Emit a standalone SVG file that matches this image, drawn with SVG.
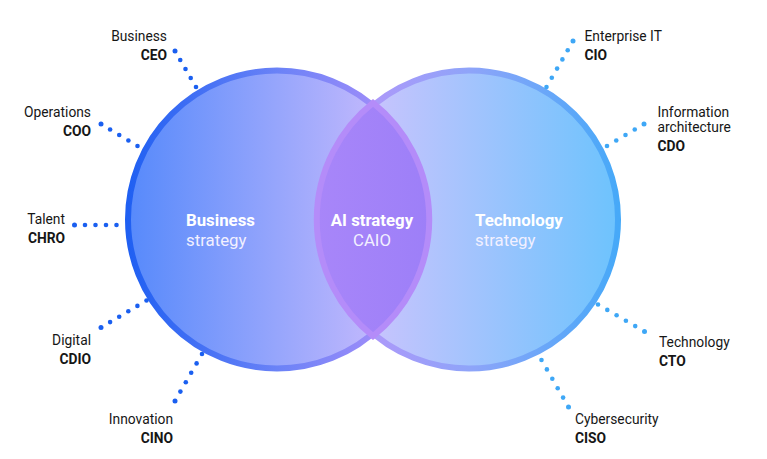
<svg xmlns="http://www.w3.org/2000/svg" width="767" height="459" viewBox="0 0 767 459">
<defs>
<linearGradient id="fillL" gradientUnits="userSpaceOnUse" x1="125" y1="0" x2="429" y2="0">
<stop offset="0" stop-color="#5589fb"/><stop offset="1" stop-color="#d8c2fd"/>
</linearGradient>
<linearGradient id="strokeL" gradientUnits="userSpaceOnUse" x1="125" y1="0" x2="429" y2="0">
<stop offset="0" stop-color="#1e5ff2"/><stop offset="0.5" stop-color="#6a82f7"/><stop offset="1" stop-color="#b892fa"/>
</linearGradient>
<linearGradient id="fillR" gradientUnits="userSpaceOnUse" x1="317" y1="0" x2="621" y2="0">
<stop offset="0" stop-color="#dcc4fd"/><stop offset="1" stop-color="#6cc3fd"/>
</linearGradient>
<linearGradient id="strokeR" gradientUnits="userSpaceOnUse" x1="317" y1="0" x2="621" y2="0">
<stop offset="0" stop-color="#bd92fa"/><stop offset="0.5" stop-color="#8fa4f9"/><stop offset="1" stop-color="#45a9f8"/>
</linearGradient>
<linearGradient id="fillM" gradientUnits="userSpaceOnUse" x1="317" y1="0" x2="429" y2="0">
<stop offset="0" stop-color="#a886f9"/><stop offset="1" stop-color="#9d7ff8"/>
</linearGradient>
</defs>
<style>
.lbl{font-family:Roboto,"Liberation Sans",sans-serif;font-size:13.8px;fill:#161616}
.b{font-weight:bold}
.r{text-anchor:end}
.ct{font-family:Roboto,"Liberation Sans",sans-serif;font-size:16.8px;fill:#ffffff}
.ct2{font-family:Roboto,"Liberation Sans",sans-serif;font-size:16.8px;fill:#f2f0ff}
.dl circle{fill:#1a5ff0}
.dr circle{fill:#3ea7f6}
</style>
<g id="circles">
<g id="business-strategy">
<circle cx="277" cy="219.5" r="149" fill="url(#fillL)" stroke="url(#strokeL)" stroke-width="6"/>
</g>
<g id="technology-strategy">
<circle cx="469" cy="219.5" r="149" fill="url(#fillR)" stroke="url(#strokeR)" stroke-width="6"/>
</g>
<g id="ai-strategy">
<path d="M373,102.9 A149,149 0 0 1 373,336.1 A149,149 0 0 1 373,102.9 Z" fill="url(#fillM)" stroke="#b48cf9" stroke-width="6"/>
</g>
<text class="ct b" x="186" y="226">Business</text>
<text class="ct2" x="186" y="246">strategy</text>
<text class="ct b" x="372" y="226" text-anchor="middle">AI strategy</text>
<text class="ct2" x="372" y="246" text-anchor="middle">CAIO</text>
<text class="ct b" x="475" y="226">Technology</text>
<text class="ct2" x="475" y="246">strategy</text>
</g>
<g id="connectors">
<g class="dl" id="c-ceo"><circle cx="175" cy="51" r="2.5"/><circle cx="180.25" cy="60" r="2.3"/><circle cx="185.5" cy="69" r="2.3"/><circle cx="190.75" cy="78" r="2.3"/><circle cx="196" cy="87" r="2.3"/></g>
<g class="dl" id="c-coo"><circle cx="101" cy="124" r="2.5"/><circle cx="110.1" cy="129.5" r="2.3"/><circle cx="119.25" cy="135" r="2.3"/><circle cx="128.4" cy="140.5" r="2.3"/><circle cx="137.5" cy="146" r="2.3"/></g>
<g class="dl" id="c-chro"><circle cx="74.5" cy="225" r="2.5"/><circle cx="85" cy="225" r="2.3"/><circle cx="95.5" cy="225" r="2.3"/><circle cx="106" cy="225" r="2.3"/><circle cx="116.5" cy="225" r="2.3"/></g>
<g class="dl" id="c-cdio"><circle cx="101" cy="327.5" r="2.5"/><circle cx="110.1" cy="322.1" r="2.3"/><circle cx="119.2" cy="316.7" r="2.3"/><circle cx="128.3" cy="311.3" r="2.3"/><circle cx="137.4" cy="305.9" r="2.3"/><circle cx="146.5" cy="300.5" r="2.3"/></g>
<g class="dl" id="c-cino"><circle cx="175" cy="401" r="2.5"/><circle cx="180.4" cy="391.6" r="2.3"/><circle cx="185.8" cy="382.2" r="2.3"/><circle cx="191.2" cy="372.8" r="2.3"/><circle cx="196.6" cy="363.4" r="2.3"/><circle cx="202" cy="354" r="2.3"/></g>
<g class="dr" id="c-cio"><circle cx="573" cy="41" r="2.5"/><circle cx="567.7" cy="50.2" r="2.3"/><circle cx="562.4" cy="59.4" r="2.3"/><circle cx="557.1" cy="68.6" r="2.3"/><circle cx="551.8" cy="77.8" r="2.3"/><circle cx="546.5" cy="87" r="2.3"/></g>
<g class="dr" id="c-cdo"><circle cx="644" cy="124" r="2.5"/><circle cx="634.75" cy="129.5" r="2.3"/><circle cx="625.5" cy="135" r="2.3"/><circle cx="616.25" cy="140.5" r="2.3"/><circle cx="607" cy="146" r="2.3"/></g>
<g class="dr" id="c-cto"><circle cx="598" cy="304.5" r="2.3"/><circle cx="607.3" cy="309.9" r="2.3"/><circle cx="616.6" cy="315.3" r="2.3"/><circle cx="625.9" cy="320.7" r="2.3"/><circle cx="635.2" cy="326.1" r="2.3"/><circle cx="644.5" cy="331.5" r="2.5"/></g>
<g class="dr" id="c-ciso"><circle cx="541.5" cy="360" r="2.3"/><circle cx="546.9" cy="369.4" r="2.3"/><circle cx="552.3" cy="378.8" r="2.3"/><circle cx="557.7" cy="388.2" r="2.3"/><circle cx="563.1" cy="397.6" r="2.3"/><circle cx="568.5" cy="407" r="2.5"/></g>
</g>
<g id="ceo"><text class="lbl r" x="167" y="41">Business</text><text class="lbl b r" x="167" y="60">CEO</text></g>
<g id="coo"><text class="lbl r" x="91" y="116.5">Operations</text><text class="lbl b r" x="91" y="135.5">COO</text></g>
<g id="chro"><text class="lbl r" x="65" y="223.5">Talent</text><text class="lbl b r" x="65" y="242.5">CHRO</text></g>
<g id="cdio"><text class="lbl r" x="91" y="344.5">Digital</text><text class="lbl b r" x="91" y="363.5">CDIO</text></g>
<g id="cino"><text class="lbl r" x="173" y="424">Innovation</text><text class="lbl b r" x="173" y="443">CINO</text></g>
<g id="cio"><text class="lbl" x="584.5" y="41">Enterprise IT</text><text class="lbl b" x="584.5" y="59.5">CIO</text></g>
<g id="cdo"><text class="lbl" x="657.5" y="116.5">Information</text><text class="lbl" x="657.5" y="131.5">architecture</text><text class="lbl b" x="657.5" y="150.5">CDO</text></g>
<g id="cto"><text class="lbl" x="659" y="346.5">Technology</text><text class="lbl b" x="659" y="365.5">CTO</text></g>
<g id="ciso"><text class="lbl" x="575" y="423.5">Cybersecurity</text><text class="lbl b" x="575" y="442.5">CISO</text></g>
</svg>
